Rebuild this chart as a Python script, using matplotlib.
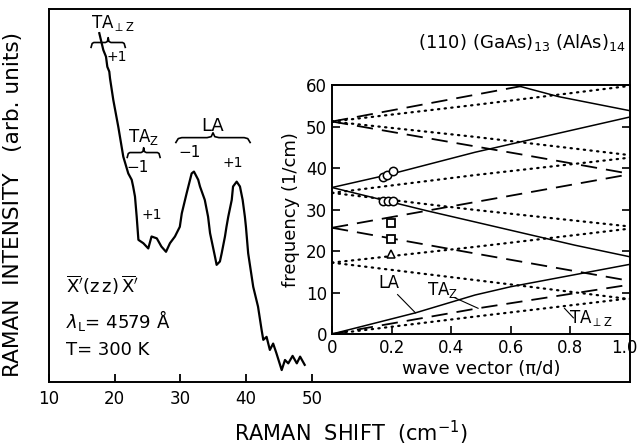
import numpy as np
import matplotlib
matplotlib.use("Agg")
import matplotlib.pyplot as plt
import matplotlib.transforms as mtransforms

# Raman spectrum
shift = [17.65, 18.26, 18.67, 18.87, 19.17, 19.28, 19.78, 20.54, 21.3, 22.06, 22.58, 22.8,
         23.08, 23.34, 23.6, 24.35, 25.1, 25.6, 26.4, 27.1, 27.8, 28.4, 29.16, 29.9,
         30.2, 30.94, 31.7, 32.05, 32.7, 32.97, 33.7, 34.2, 34.5, 35.25, 35.5, 36.0,
         36.27, 36.77, 37.0, 37.27, 37.8, 38.0, 38.55, 39.05, 39.46, 39.8, 39.96, 40.3,
         41.07, 41.8, 42.35, 42.6, 43.1, 43.6, 44.1, 44.6, 45.4, 45.9, 46.4, 47.06,
         47.7, 48.2, 48.9]
intensity = [93.5, 89.0, 87.2, 84.5, 83.2, 81.4, 75.6, 68.4, 60.4, 55.9, 54.2, 52.4,
             49.7, 44.3, 38.1, 37.2, 35.8, 39.0, 38.5, 36.3, 34.9, 37.2, 39.0, 41.6,
             45.2, 50.6, 55.9, 56.4, 54.2, 52.4, 48.8, 44.3, 39.9, 33.6, 31.4, 32.3,
             34.5, 39.0, 41.6, 44.3, 48.8, 52.4, 53.7, 52.4, 48.8, 44.3, 41.6, 34.5,
             25.5, 20.2, 13.9, 11.3, 12.1, 8.6, 10.3, 7.7, 3.2, 5.9, 5.0, 7.0,
             5.0, 6.8, 4.6]

# folded acoustic branches: (q, frequency) pairs
la_branches = [
    ([0, 0.28, 0.48, 0.6, 1.0], [0, 5.1, 9.4, 11.4, 16.8]),
    ([0, 0.318, 0.48, 0.815, 1.0], [35.3, 29.7, 27.0, 21.4, 18.6]),
    ([0, 0.19, 0.48, 1.0], [35.3, 38.4, 43.8, 52.3]),
    ([0.55, 0.624, 0.76, 1.0], [61.2, 59.8, 57.2, 53.8]),
]
taz_branches = [
    ([0, 0.49, 1.0], [0, 6.2, 11.9]),
    ([0, 0.48, 1.0], [25.6, 19.4, 12.8]),
    ([0, 1.0], [25.6, 38.5]),
    ([0, 0.625, 1.0], [51.2, 43.4, 38.6]),
    ([0, 0.625, 0.8], [51.2, 59.6, 62.0]),
]
taperp_branches = [
    ([0, 0.48, 1.0], [0, 4.2, 8.6]),
    ([0, 0.48, 1.0], [17.2, 13.0, 8.4]),
    ([0, 0.48, 1.0], [17.2, 21.0, 25.4]),
    ([0, 0.48, 1.0], [34.0, 29.9, 25.9]),
    ([0, 0.48, 1.0], [34.0, 38.3, 42.5]),
    ([0, 0.48, 1.0], [51.2, 47.5, 43.1]),
    ([0, 0.48, 1.0], [51.2, 55.2, 59.8]),
]
circle_q = [0.172, 0.186, 0.204, 0.172, 0.189, 0.206]
circle_f = [37.9, 38.3, 39.3, 32.0, 32.1, 32.0]
square_q = [0.197, 0.197]
square_f = [26.7, 23.0]
tri_q = [0.197]
tri_f = [19.3]

main_xticks = [10, 20, 30, 40, 50]
inset_xticks = [0, 0.2, 0.4, 0.6, 0.8, 1.0]
inset_xticklabels = ["0", "0.2", "0.4", "0.6", "0.8", "1.0"]
inset_yticks = [0, 10, 20, 30, 40, 50, 60]

plt.rcParams['font.family'] = ['DejaVu Sans']
plt.rcParams['mathtext.fontset'] = 'dejavusans'

fig = plt.figure(figsize=(6.39, 4.46), dpi=100)
ax = fig.add_axes([0.0767, 0.1435, 0.9093, 0.8365])
ax.plot(shift, intensity, color='black', lw=1.6)
ax.set_xlim(10, 98.4)
ax.set_ylim(0, 100)
ax.set_yticks([])
ax.set_xticks(main_xticks)
ax.tick_params(axis='x', direction='in', length=6, width=1.3, labelsize=12, pad=6)
for s in ax.spines.values():
    s.set_linewidth(1.4)
ax.set_xlabel("RAMAN  SHIFT  (cm$^{-1}$)", fontsize=15)
ax.xaxis.set_label_coords(0.52, -0.098)
ax.set_ylabel("RAMAN  INTENSITY   (arb. units)", fontsize=15.6)
ax.yaxis.set_label_coords(-0.045, 0.477)


def brace(x0, x1, y, h):
    xm = (x0 + x1) / 2
    e = (x1 - x0) * 0.08
    xs = [x0, x0 + e * 0.4, x0 + e, xm - e, xm - e * 0.3, xm, xm + e * 0.3, xm + e, x1 - e, x1 - e * 0.4, x1]
    ys = [y - h, y - h * 0.2, y, y, y + h * 0.2, y + h, y + h * 0.2, y, y, y - h * 0.2, y - h]
    ax.plot(xs, ys, color='black', lw=1.2)


brace(16.4, 21.6, 91.0, 1.3)
brace(21.9, 26.9, 61.5, 1.3)
brace(29.3, 40.6, 65.5, 1.3)
ax.text(19.7, 96.2, r"TA$_{\perp\mathrm{Z}}$", fontsize=12, ha='center', va='center')
ax.text(20.3, 87.0, "+1", fontsize=10, ha='center', va='center')
ax.text(24.4, 65.7, r"TA$_\mathrm{Z}$", fontsize=12, ha='center', va='center')
ax.text(23.4, 57.6, "\u22121", fontsize=11, ha='center', va='center')
ax.text(25.7, 44.8, "+1", fontsize=10, ha='center', va='center')
ax.text(34.9, 68.6, "LA", fontsize=13, ha='center', va='center')
ax.text(31.4, 61.4, "\u22121", fontsize=11, ha='center', va='center')
ax.text(38.0, 58.7, "+1", fontsize=10, ha='center', va='center')
ax.text(12.6, 26.0, r"$\overline{\mathrm{X}}'\mathrm{(z\,z)}\,\overline{\mathrm{X}}'$", fontsize=13, va='center')
ax.text(12.6, 16.6, r"$\lambda_\mathrm{L}$= 4579 Å", fontsize=13, va='center')
ax.text(12.6, 8.6, "T= 300 K", fontsize=13, va='center')
fig.text(0.817, 0.905, r"(110) (GaAs)$_{13}$ (AlAs)$_{14}$", fontsize=13, ha='center', va='center')

# inset: dispersion
ins = fig.add_axes([0.5196, 0.2511, 0.4664, 0.5583])
for q, f in la_branches:
    ins.plot(q, f, color='black', lw=1.1)
for q, f in taz_branches:
    ins.plot(q, f, color='black', lw=1.3, dashes=(9, 5))
for q, f in taperp_branches:
    ins.plot(q, f, color='black', lw=1.6, linestyle=(0, (0.6, 2.4)), dash_capstyle='round')
ins.plot(circle_q, circle_f, 'o', mfc='white', mec='black', ms=6, mew=1.1)
ins.plot(square_q, square_f, 's', mfc='white', mec='black', ms=5.5, mew=1.3)
ins.plot(tri_q, tri_f, '^', mfc='white', mec='black', ms=6, mew=1.1)
ins.set_xlim(0, 1.0)
ins.set_ylim(0, 60)
ins.set_xticks(inset_xticks)
ins.set_xticklabels(inset_xticklabels)
ins.set_yticks(inset_yticks)
ins.tick_params(direction='in', length=6, width=1.2, labelsize=12, right=True)
for s in ins.spines.values():
    s.set_linewidth(1.4)
last = ins.get_xticklabels()[-1]
last.set_transform(last.get_transform() + mtransforms.ScaledTranslation(-4 / 72, 0, fig.dpi_scale_trans))
ins.set_xlabel("wave vector (π/d)", fontsize=13, labelpad=2)
ins.set_ylabel("frequency (1/cm)", fontsize=13, labelpad=4)

ins.text(0.19, 12.3, "LA", fontsize=12, ha='center', va='center')
ins.plot([0.22, 0.28], [9.5, 5.1], color='black', lw=0.8)
ins.text(0.37, 10.7, r"TA$_\mathrm{Z}$", fontsize=12, ha='center', va='center')
ins.plot([0.41, 0.49], [8.8, 6.2], color='black', lw=0.8)
ins.text(0.87, 3.8, r"TA$_{\perp\mathrm{Z}}$", fontsize=12, ha='center', va='center')
ins.plot([0.78, 0.81], [6.2, 3.9], color='black', lw=0.8)

fig.savefig("out.png", dpi=100)
